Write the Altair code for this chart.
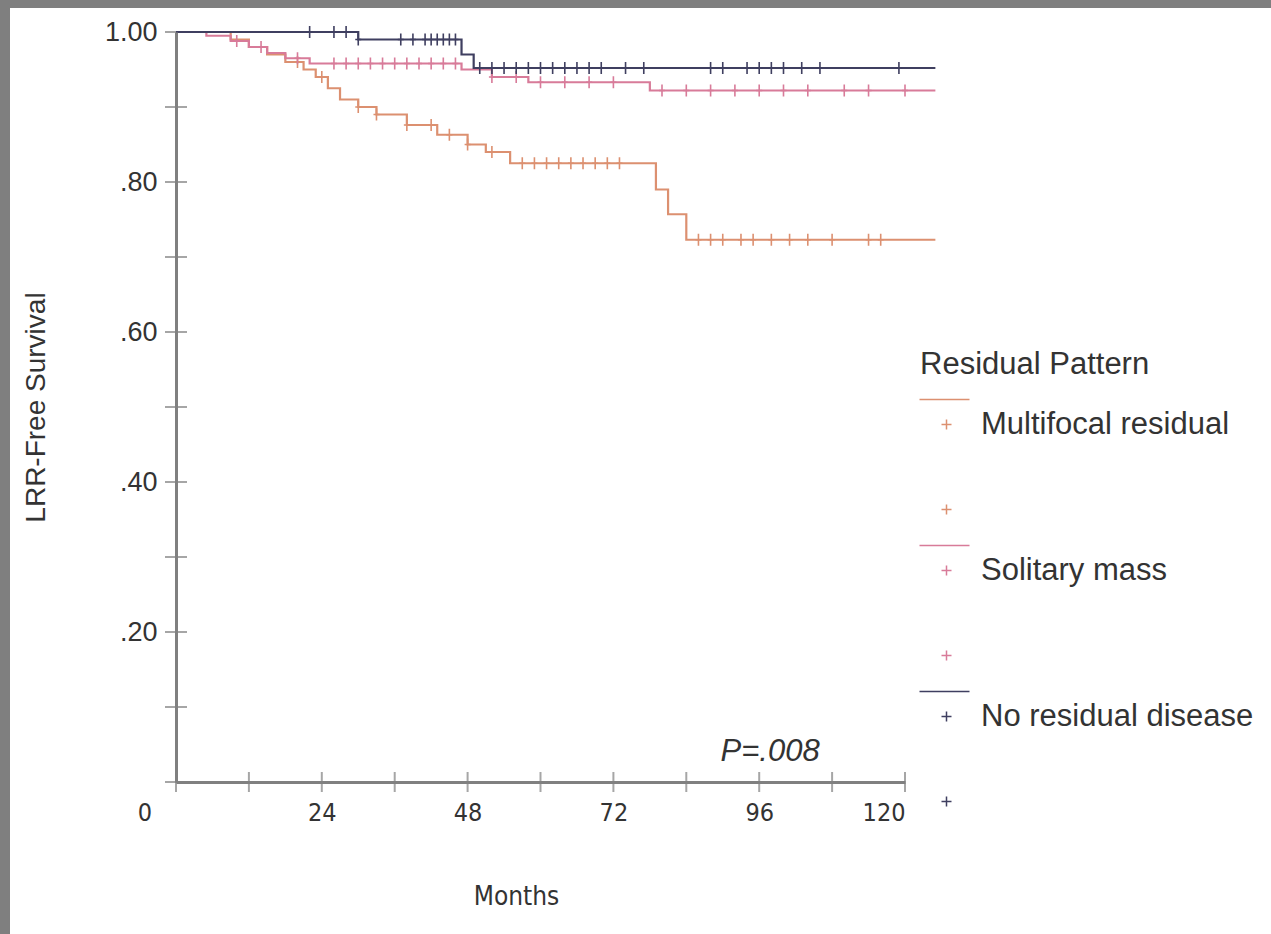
import altair as alt
import pandas as pd

# ---- data ----
series_names = ["Multifocal residual", "Solitary mass", "No residual disease"]
series_colors = ["#dc9070", "#d87b99", "#3f3f60"]

# step curves: time (months) where survival changes, survival after the step
multi_t = [0, 9, 12, 15, 18, 21, 23, 25, 27, 30, 33, 38, 43, 48, 51, 55, 79, 81, 84, 125]
multi_s = [1.0, 0.99, 0.98, 0.97, 0.96, 0.95, 0.94, 0.925, 0.91, 0.90, 0.89, 0.876, 0.863,
           0.85, 0.84, 0.825, 0.79, 0.757, 0.723, 0.723]

solit_t = [0, 5, 9, 12, 15, 18, 22, 47, 52, 58, 78, 125]
solit_s = [1.0, 0.995, 0.988, 0.98, 0.972, 0.965, 0.958, 0.95, 0.94, 0.933, 0.922, 0.922]

nores_t = [0, 30, 47, 49, 125]
nores_s = [1.0, 0.99, 0.97, 0.952, 0.952]

# censoring times (months)
multi_c = [20, 24, 30, 33, 38, 42, 45, 48, 52, 57, 59, 61, 63, 65, 67, 69, 71, 73,
           86, 88, 90, 93, 95, 98, 101, 104, 108, 114, 116]
solit_c = [10, 14, 20, 26, 28, 30, 32, 34, 36, 38, 40, 42, 44, 46, 52, 56, 60, 64, 68,
           72, 80, 84, 88, 92, 96, 100, 104, 110, 114, 120]
nores_c = [22, 26, 28, 30, 37, 39, 41, 42, 43, 44, 45, 46, 50, 52, 54, 56, 58, 60, 62,
           64, 66, 68, 70, 74, 77, 88, 90, 94, 96, 98, 100, 103, 106, 119]

p_text = ["P=.008"]
p_month = [97.8]
p_surv = [0.04]

x_ticks = [0, 12, 24, 36, 48, 60, 72, 84, 96, 108, 120]
y_ticks = [0, 0.1, 0.2, 0.3, 0.4, 0.5, 0.6, 0.7, 0.8, 0.9, 1.0]

# ---- build tables ----
curves = []
cens = []
for name, ts, ss, cs in [
    (series_names[0], multi_t, multi_s, multi_c),
    (series_names[1], solit_t, solit_s, solit_c),
    (series_names[2], nores_t, nores_s, nores_c),
]:
    for t, s in zip(ts, ss):
        curves.append({"group": name, "month": t, "surv": s})
    for c in cs:
        val = ss[0]
        for t, s in zip(ts, ss):
            if t <= c:
                val = s
        cens.append({"group": name, "month": c, "surv": val})

curves_df = pd.DataFrame(curves)
cens_df = pd.DataFrame(cens)
p_df = pd.DataFrame({"text": p_text, "month": p_month, "surv": p_surv})
zero_df = pd.DataFrame({"text": ["0"], "month": [0], "surv": [0]})
bg_df = pd.DataFrame({"a": [0]})
xt_df = pd.DataFrame({"month": x_ticks, "surv": [0] * len(x_ticks)})
yt_df = pd.DataFrame({"month": [0] * len(y_ticks), "surv": y_ticks})

FONT = "Liberation Sans"
NARROW = "Liberation Sans Narrow, DejaVu Sans Condensed, Liberation Sans"
TXT = "#333333"
AXC = "#808080"

xscale = alt.Scale(domain=[0, 120], nice=False, zero=False)
yscale = alt.Scale(domain=[0, 1], nice=False)
color_scale = alt.Scale(domain=series_names, range=series_colors)

legend_path = ("M-2.7,-2.5L2.3,-2.5"
               "M-0.5,0L0.5,0M0,-0.5L0,0.5"
               "M-0.5,8.5L0.5,8.5M0,8L0,9")

legend = alt.Legend(
    title="Residual Pattern", orient="none", legendX=744, legendY=318,
    symbolType=legend_path, symbolSize=400, symbolStrokeWidth=1.5,
    symbolFillColor="transparent", symbolOffset=11,
    rowPadding=24, labelOffset=19, labelLimit=500, titleLimit=500,
    labelFont=FONT, labelFontSize=31, labelColor=TXT,
    titleFont=FONT, titleFontSize=31, titleColor=TXT, titleFontWeight="normal",
    titlePadding=28, zindex=3,
)

x_axis = alt.Axis(
    title="Months", values=x_ticks,
    labelExpr="datum.value % 24 == 0 && datum.value > 0 ? datum.label : ''",
    grid=False, domainColor=AXC, domainWidth=3, ticks=False,
    labelPadding=18, labelFont=NARROW, labelFontSize=25,
    labelColor=TXT, titleFont=NARROW, titleFontSize=26, titleFontWeight="normal",
    titleColor=TXT, titlePadding=58, titleX=340, zindex=2,
)
y_axis = alt.Axis(
    title="LRR-Free Survival", values=y_ticks,
    labelExpr="round(datum.value*10) % 2 == 1 || datum.value == 0 ? '' : "
              "(datum.value == 1 ? '1.00' : replace(format(datum.value, '.2f'), '0.', '.'))",
    grid=False, domainColor=AXC, domainWidth=3, ticks=False,
    labelPadding=19, labelFont=FONT, labelFontSize=27,
    labelColor=TXT, titleFont=FONT, titleFontSize=28, titleFontWeight="normal",
    titleColor=TXT, titlePadding=54, zindex=2,
)

bg = alt.Chart(bg_df).mark_rect(color="white").encode(
    x=alt.value(-166), x2=alt.value(1095), y=alt.value(-24), y2=alt.value(902)
)

xt = alt.Chart(xt_df).mark_tick(orient="vertical", color=AXC, thickness=2, size=20).encode(
    x=alt.X("month:Q", scale=xscale), y=alt.Y("surv:Q", scale=yscale)
)
yt = alt.Chart(yt_df).mark_tick(orient="horizontal", color=AXC, thickness=2, size=22).encode(
    x=alt.X("month:Q", scale=xscale), y=alt.Y("surv:Q", scale=yscale)
)

lines = alt.Chart(curves_df).mark_line(interpolate="step-after", strokeWidth=2.2).encode(
    x=alt.X("month:Q", scale=xscale, axis=x_axis),
    y=alt.Y("surv:Q", scale=yscale, axis=y_axis),
    color=alt.Color("group:N", scale=color_scale, legend=legend, sort=series_names),
)

marks = alt.Chart(cens_df).mark_point(
    shape="M0,-1L0,1M-0.5,0L0.5,0", filled=False, size=144, strokeWidth=1.6, opacity=1
).encode(
    x=alt.X("month:Q", scale=xscale),
    y=alt.Y("surv:Q", scale=yscale),
    color=alt.Color("group:N", scale=color_scale, legend=legend, sort=series_names),
)

ptext = alt.Chart(p_df).mark_text(font=FONT, fontSize=31, color=TXT, fontStyle="italic").encode(
    x=alt.X("month:Q", scale=xscale), y=alt.Y("surv:Q", scale=yscale), text="text:N"
)

zero = alt.Chart(zero_df).mark_text(font=NARROW, fontSize=25, color=TXT, dx=-31, dy=31).encode(
    x=alt.X("month:Q", scale=xscale), y=alt.Y("surv:Q", scale=yscale), text="text:N"
)

chart = alt.layer(bg, xt, yt, lines, marks, ptext, zero).properties(
    width=729, height=750,
    autosize=alt.AutoSizeParams(type="none"),
    padding={"left": 176, "top": 32, "right": 366, "bottom": 152},
    background="#7f7f7f",
).configure_view(stroke=None)

chart.save("out.html", embed_options={"renderer": "svg", "actions": False})
